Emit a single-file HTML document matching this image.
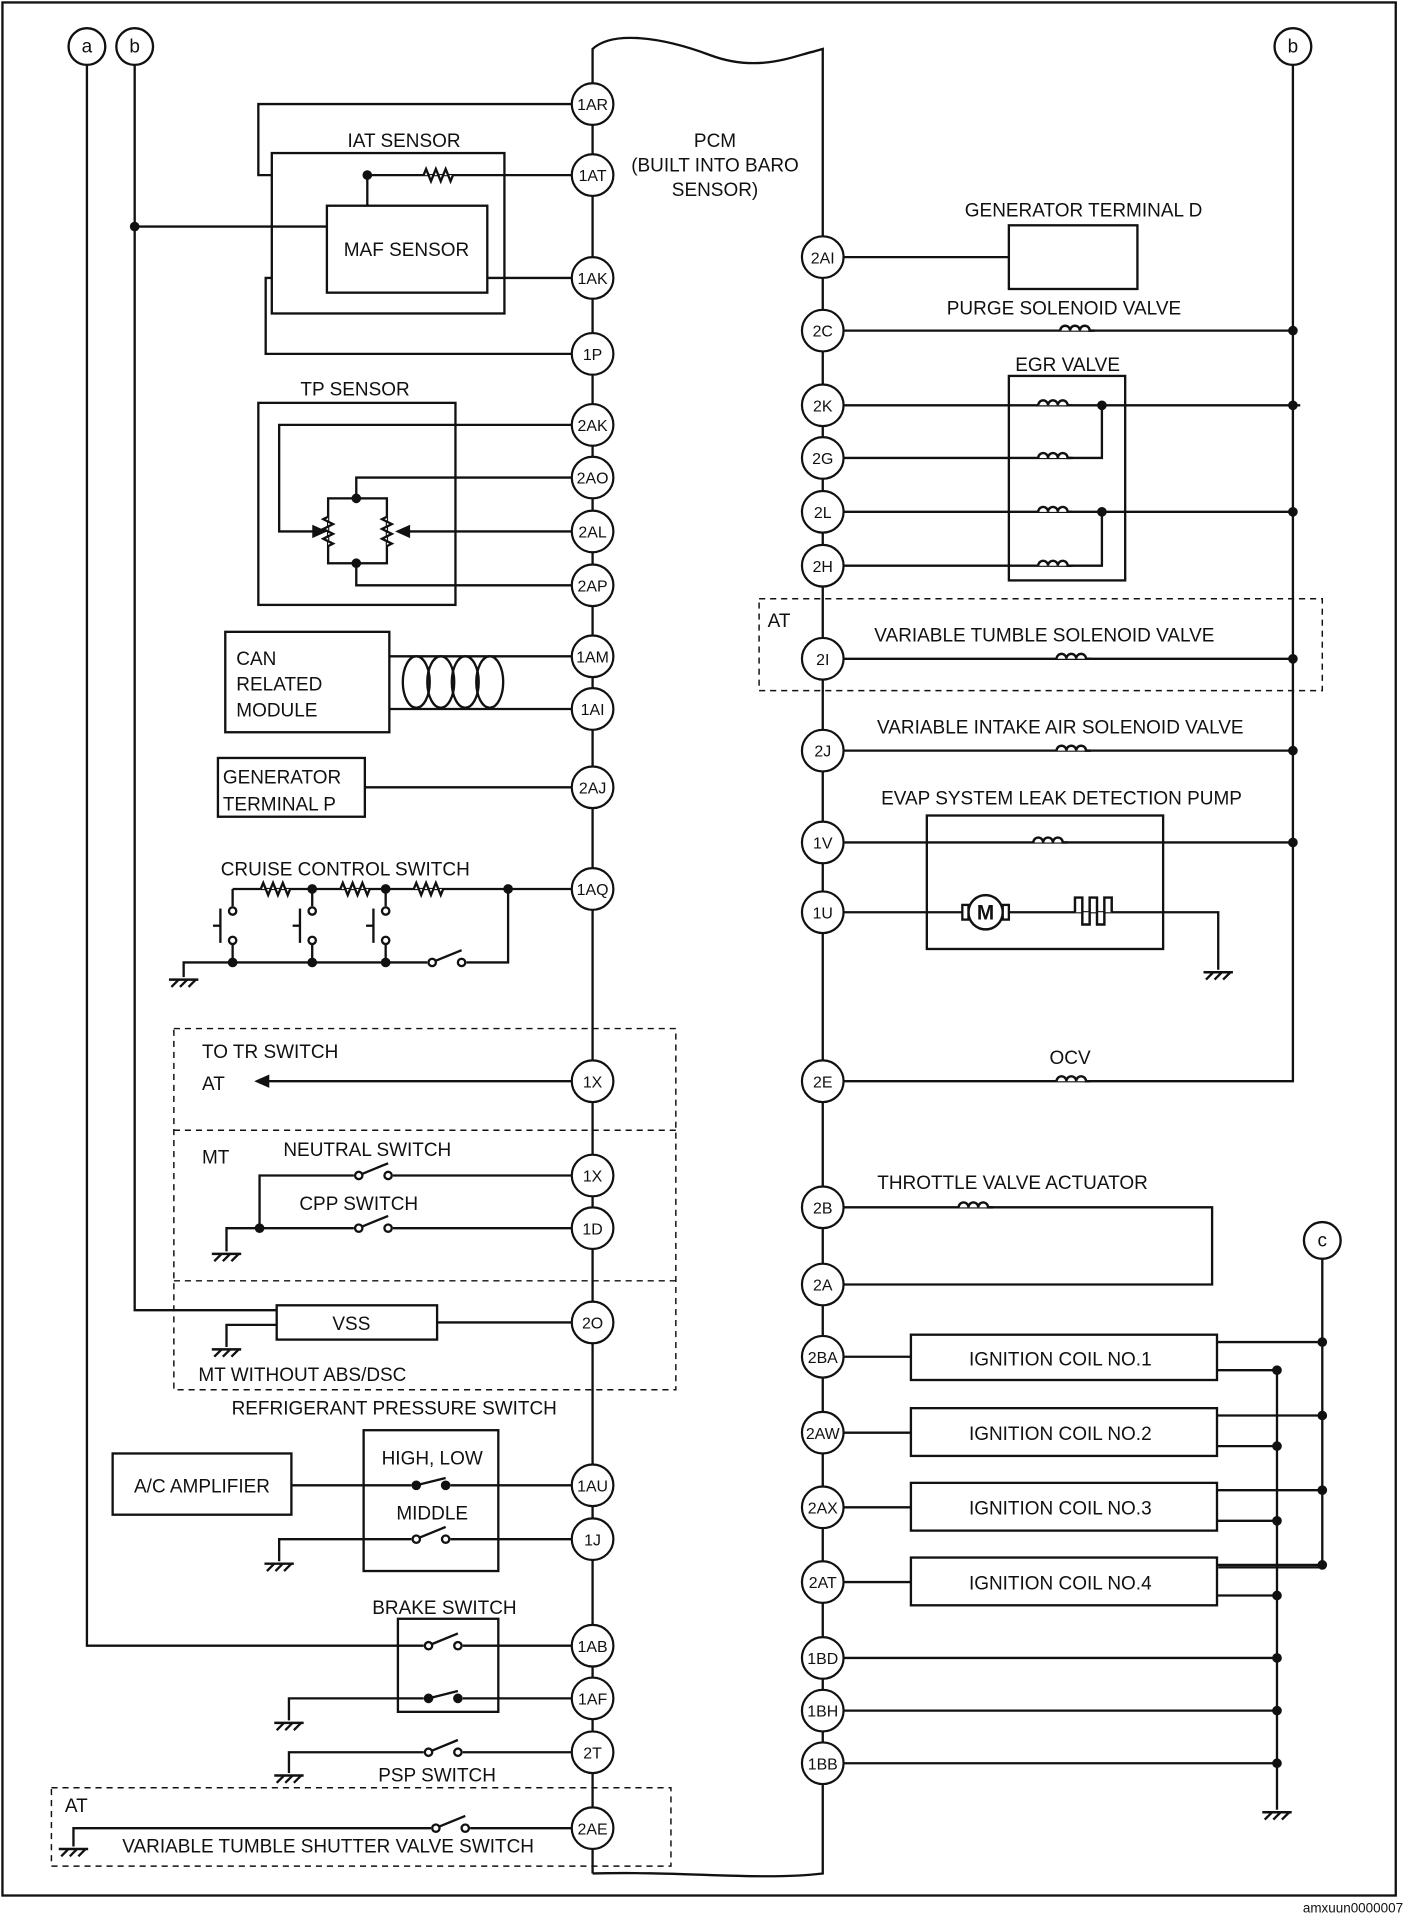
<!DOCTYPE html>
<html><head><meta charset="utf-8"><style>
html,body{margin:0;padding:0;background:#fff}
svg{display:block}
text{font-family:"Liberation Sans",sans-serif;font-size:15.5px;fill:#111;text-anchor:middle}
.p{font-size:13px}
</style></head><body>
<svg id="s" width="1408" height="1920" viewBox="0 0 1150 1568" preserveAspectRatio="none" xmlns="http://www.w3.org/2000/svg">
<g id="g" stroke="#111" stroke-width="1.9" fill="none"></g>
<g id="t"></g>
</svg>
<script>
const g=document.getElementById('g'),T=document.getElementById('t');
let S='',X='';
const L=(...p)=>{S+=`<polyline points="${p.join(' ')}"/>`};
const R=(x1,y1,x2,y2,d)=>{S+=`<rect x="${x1}" y="${y1}" width="${x2-x1}" height="${y2-y1}" ${d?'stroke-dasharray="5,4" stroke-width="1.2"':''}/>`};
const D=(x,y)=>{S+=`<circle cx="${x}" cy="${y}" r="3" fill="#111"/>`};
const tx=(x,y,s,c)=>{X+=`<text x="${x}" y="${y}" ${c?'class="'+c+'"':''}>${s}</text>`};
const txl=(x,y,s)=>{X+=`<text x="${x}" y="${y}" style="text-anchor:start">${s}</text>`};
const pin=(x,y,s)=>{S+=`<circle cx="${x}" cy="${y}" r="17" fill="#fff" stroke-width="1.8"/>`;tx(x,y+5,s,'p')};
const circ=(x,y,s)=>{S+=`<circle cx="${x}" cy="${y}" r="15" fill="#fff"/>`;tx(x,y+5,s)};
const coil=(x,y)=>{S+=`<path d="M${x-14} ${y} a4 4 0 0 1 8 0 a4 4 0 0 1 8 0 a4 4 0 0 1 8 0 l4 0" fill="#fff" stroke-width="2"/>`};
const resH=(x,y)=>{let d=`M${x-12} ${y}`;for(let i=0;i<6;i++)d+=` l2 ${i%2?5:-5} l2 ${i%2?-5:5}`;S+=`<path d="${d}" fill="#fff"/>`};
const resV=(x,y)=>{let d=`M${x} ${y-12}`;for(let i=0;i<6;i++)d+=` l${i%2?4:-4} 2 l${i%2?-4:4} 2`;S+=`<path d="${d}" fill="#fff"/>`};
const sw=(x,y)=>{S+=`<line x1="${x-16}" y1="${y}" x2="${x+16}" y2="${y}" stroke="#fff" stroke-width="4"/><circle cx="${x-12}" cy="${y}" r="3" fill="#fff"/><circle cx="${x+12}" cy="${y}" r="3" fill="#fff"/><line x1="${x-10}" y1="${y-1}" x2="${x+12}" y2="${y-10}"/>`};
const swc=(x,y)=>{S+=`<line x1="${x-16}" y1="${y}" x2="${x+16}" y2="${y}" stroke="#fff" stroke-width="4"/><circle cx="${x-12}" cy="${y}" r="3" fill="#111"/><circle cx="${x+12}" cy="${y}" r="3" fill="#111"/><line x1="${x-12}" y1="${y}" x2="${x+12}" y2="${y-6}"/>`};
const gnd=(x,y)=>{S+=`<line x1="${x-12}" y1="${y}" x2="${x+12}" y2="${y}" stroke-width="2"/><line x1="${x-10}" y1="${y+6}" x2="${x-4}" y2="${y}"/><line x1="${x-3}" y1="${y+6}" x2="${x+3}" y2="${y}"/><line x1="${x+4}" y1="${y+6}" x2="${x+10}" y2="${y}"/>`};
const arr=(x,y,dir)=>{S+=`<path d="M${x} ${y} l${-9*dir} -4 l0 8 z" fill="#111"/>`};

R(2,2,1140,1548);
S+=`<path d="M484 1530 L484 40 C500 25 540 30 580 45 C620 60 650 45 665 42 L672 40 L672 1530 C620 1536 560 1528 484 1530"/>`;
L('71,53','71,1344','484,1344');
L('110,53','110,1070','226,1070');
L('110,185','267,185');D(110,185);
L('1056,53','1056,883','672,883');
R(222,125,412,256);R(267,168,398,239);
L('484,85','211,85','211,143','222,143');
L('484,143','300,143','300,168');D(300,143);resH(358,143);
L('398,227','484,227');
L('484,289','217,289','217,227','222,227');
R(211,329,372,494);
L('484,347','228,347','228,434','262,434');arr(265,434,1);
L('484,390','291,390','291,407');L('484,478','291,478','291,460');
R(268,407,316,460);D(291,407);D(291,460);resV(268,434);resV(316,434);
L('484,434','328,434');arr(325,434,-1);
R(184,516,318,598);L('318,536','484,536');L('318,579','484,579');
for(let i=0;i<4;i++)S+=`<ellipse cx="${340+20*i}" cy="557" rx="11" ry="21"/>`;
R(178,619,298,667);L('298,643','484,643');
L('484,726','190,726');D(415,726);L('415,726','415,786','150,786','150,798');gnd(150,800);
resH(225,726);resH(290,726);resH(350,726);
[190,255,315].forEach(x=>{L(`${x},726`,`${x},740`);L(`${x},770`,`${x},786`);S+=`<circle cx="${x}" cy="744" r="3" fill="#fff"/><circle cx="${x}" cy="768" r="3" fill="#fff"/><line x1="${x-10}" y1="742" x2="${x-10}" y2="770"/><line x1="${x-10}" y1="756" x2="${x-16}" y2="756"/>`;D(x,786)});
[255,315].forEach(x=>D(x,726));
sw(365,786);
R(142,840,552,1135,1);S+=`<line x1="142" y1="923" x2="552" y2="923" stroke-dasharray="5,4" stroke-width="1.2"/><line x1="142" y1="1046" x2="552" y2="1046" stroke-dasharray="5,4" stroke-width="1.2"/>`;
L('484,883','215,883');arr(210,883,-1);
L('484,960','212,960','212,1003');sw(305,960);
L('484,1003','185,1003','185,1022');gnd(185,1024);D(212,1003);sw(305,1003);
R(226,1066,357,1094);L('357,1080','484,1080');L('226,1082','185,1082','185,1100');gnd(185,1102);
R(297,1168,407,1283);R(92,1187,238,1237);L('238,1213','484,1213');swc(352,1213);
L('484,1257','228,1257','228,1275');gnd(228,1277);sw(352,1257);
R(325,1322,407,1398);sw(362,1344);L('484,1387','236,1387','236,1405');gnd(236,1407);swc(362,1387);
L('484,1431','236,1431','236,1448');gnd(236,1450);sw(362,1431);
R(42,1460,548,1524,1);L('484,1493','60,1493','60,1508');gnd(60,1510);sw(368,1493);
R(824,184,929,236);L('672,210','824,210');
L('672,270','1056,270');coil(880,270);D(1056,270);
R(824,307,919,474);
L('672,331','1062,331');coil(862,331);D(900,331);D(1056,331);L('900,331','900,374','672,374');coil(862,374);
L('672,418','1056,418');coil(862,418);D(900,418);D(1056,418);L('900,418','900,462','672,462');coil(862,462);
R(620,489,1080,564,1);
L('672,538','1056,538');coil(877,538);D(1056,538);
L('672,613','1056,613');coil(877,613);D(1056,613);
R(757,666,950,775);L('672,688','1056,688');coil(858,688);D(1056,688);
L('672,745','995,745','995,792');gnd(995,794);
S+=`<circle cx="805" cy="745" r="14" fill="#fff" stroke-width="2"/><rect x="786" y="739" width="5" height="12" fill="#fff"/><rect x="819" y="739" width="5" height="12" fill="#fff"/>`;
S+=`<path d="M878 745 l0 -12 l6 0 l0 22 l6 0 l0 -22 l6 0 l0 22 l6 0 l0 -22 l6 0 l0 12" fill="#fff" stroke-width="2"/>`;
coil(877,883);
L('672,986','990,986','990,1049','672,1049');coil(797,986);
const ys=[[1090,1127],[1150,1189],[1211,1250],[1272,1311]];
L('1080,1028','1080,1280','995,1280');L('1043,1118','1043,1478');gnd(1043,1480);
ys.forEach(([a,b],i)=>{R(744,a,994,b);L(`672,${[1108,1170,1231,1292][i]}`,`744,${[1108,1170,1231,1292][i]}`);
 L(`994,${a+6}`,`1080,${a+6}`);D(1080,a+6);L(`994,${b-8}`,`1043,${b-8}`);D(1043,b-8);});
[1354,1397,1440].forEach(y=>{L(`672,${y}`,`1043,${y}`);D(1043,y)});
[[85,'1AR'],[143,'1AT'],[227,'1AK'],[289,'1P'],[347,'2AK'],[390,'2AO'],[434,'2AL'],[478,'2AP'],[536,'1AM'],[579,'1AI'],[643,'2AJ'],[726,'1AQ'],[883,'1X'],[960,'1X'],[1003,'1D'],[1080,'2O'],[1213,'1AU'],[1257,'1J'],[1344,'1AB'],[1387,'1AF'],[1431,'2T'],[1493,'2AE']].forEach(([y,s])=>pin(484,y,s));
[[210,'2AI'],[270,'2C'],[331,'2K'],[374,'2G'],[418,'2L'],[462,'2H'],[538,'2I'],[613,'2J'],[688,'1V'],[745,'1U'],[883,'2E'],[986,'2B'],[1049,'2A'],[1108,'2BA'],[1170,'2AW'],[1231,'2AX'],[1292,'2AT'],[1354,'1BD'],[1397,'1BH'],[1440,'1BB']].forEach(([y,s])=>pin(672,y,s));
circ(71,38,'a');circ(110,38,'b');circ(1056,38,'b');circ(1080,1013,'c');
g.innerHTML=S;
tx(330,120,'IAT SENSOR');tx(332,209,'MAF SENSOR');
tx(584,120,'PCM');tx(584,140,'(BUILT INTO BARO');tx(584,160,'SENSOR)');
tx(290,323,'TP SENSOR');
txl(193,543,'CAN');txl(193,564,'RELATED');txl(193,585,'MODULE');
txl(182,640,'GENERATOR');txl(182,662,'TERMINAL P');
tx(282,715,'CRUISE CONTROL SWITCH');
txl(165,864,'TO TR SWITCH');txl(165,890,'AT');txl(165,950,'MT');tx(300,944,'NEUTRAL SWITCH');tx(293,988,'CPP SWITCH');
tx(287,1086,'VSS');tx(247,1128,'MT WITHOUT ABS/DSC');tx(322,1155,'REFRIGERANT PRESSURE SWITCH');
tx(353,1196,'HIGH, LOW');tx(353,1241,'MIDDLE');tx(165,1219,'A/C AMPLIFIER');
tx(363,1318,'BRAKE SWITCH');tx(357,1455,'PSP SWITCH');txl(53,1480,'AT');tx(268,1513,'VARIABLE TUMBLE SHUTTER VALVE SWITCH');
tx(885,177,'GENERATOR TERMINAL D');tx(869,257,'PURGE SOLENOID VALVE');tx(872,303,'EGR VALVE');
txl(627,512,'AT');tx(853,524,'VARIABLE TUMBLE SOLENOID VALVE');tx(866,599,'VARIABLE INTAKE AIR SOLENOID VALVE');
tx(867,657,'EVAP SYSTEM LEAK DETECTION PUMP');X+=`<text x="805" y="751" style="font-size:17px;font-weight:bold">M</text>`;
tx(874,869,'OCV');tx(827,971,'THROTTLE VALVE ACTUATOR');
['1','2','3','4'].forEach((n,i)=>tx(866,[1115,1176,1237,1298][i],'IGNITION COIL NO.'+n));
X+=`<text x="1146" y="1562" style="font-size:11px;text-anchor:end">amxuun0000007</text>`;
T.innerHTML=X;
</script>
</body></html>
